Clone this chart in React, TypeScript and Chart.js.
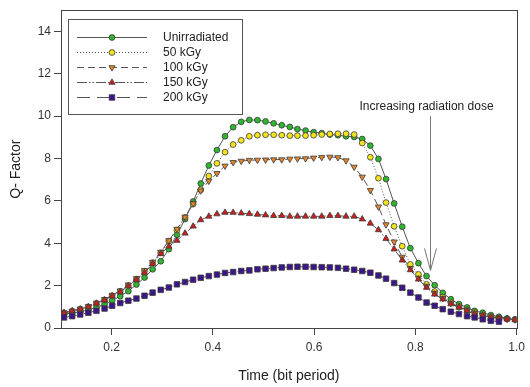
import React, { useEffect, useRef } from 'react';
import { Chart, registerables } from 'chart.js';
import { drawPoint } from 'chart.js/helpers';

Chart.register(...registerables);

// ---- data ----
const timeValues = [
  0.106, 0.122, 0.138, 0.154, 0.170, 0.186, 0.201, 0.217, 0.233, 0.249,
  0.265, 0.281, 0.297, 0.313, 0.329, 0.345, 0.361, 0.376, 0.392, 0.408,
  0.424, 0.440, 0.456, 0.472, 0.488, 0.504, 0.520, 0.536, 0.552, 0.567,
  0.583, 0.599, 0.615, 0.631, 0.647, 0.663, 0.679, 0.695, 0.711, 0.727,
  0.742, 0.758, 0.774, 0.790, 0.806, 0.822, 0.838, 0.854, 0.870, 0.886,
  0.902, 0.917, 0.933, 0.949, 0.965, 0.981, 0.997,
];

const unirradiated = [
  0.66, 0.70, 0.77, 0.85, 0.97, 1.12, 1.30, 1.50, 1.74, 2.05,
  2.38, 2.77, 3.15, 3.72, 4.40, 5.14, 5.97, 6.82, 7.67, 8.40,
  9.05, 9.48, 9.73, 9.82, 9.81, 9.75, 9.66, 9.57, 9.49, 9.39,
  9.32, 9.24, 9.20, 9.13, 9.10, 9.05, 9.02, 8.92, 8.61, 7.98,
  7.03, 5.88, 4.78, 3.77, 3.06, 2.45, 2.02, 1.66, 1.36, 1.13,
  0.97, 0.81, 0.72, 0.61, 0.53, 0.45, 0.41,
];

const dose50 = [
  0.72, 0.80, 0.89, 1.00, 1.16, 1.33, 1.52, 1.73, 2.00, 2.30,
  2.68, 3.08, 3.55, 4.10, 4.62, 5.22, 5.85, 6.52, 7.17, 7.77,
  8.30, 8.66, 8.86, 9.05, 9.10, 9.12, 9.12, 9.10, 9.08, 9.08,
  9.08, 9.10, 9.13, 9.16, 9.17, 9.17, 9.13, 8.73, 8.06, 7.07,
  5.92, 4.80, 3.86, 3.00, 2.53, 2.06, 1.72, 1.45, 1.20, 1.02,
  0.86, 0.73, 0.62, 0.54, 0.47, 0.43, 0.40,
];

const dose100 = [
  0.72, 0.80, 0.90, 1.02, 1.18, 1.35, 1.55, 1.76, 2.04, 2.34,
  2.72, 3.11, 3.58, 4.13, 4.67, 5.24, 5.87, 6.48, 6.94, 7.30,
  7.65, 7.82, 7.88, 7.92, 7.93, 7.94, 7.95, 7.95, 7.98, 7.99,
  8.00, 8.03, 8.06, 8.07, 8.05, 7.90, 7.60, 7.13, 6.50, 5.72,
  4.88, 4.07, 3.35, 2.82, 2.36, 1.98, 1.65, 1.40, 1.17, 1.00,
  0.84, 0.70, 0.60, 0.52, 0.46, 0.42, 0.39,
];

const dose150 = [
  0.72, 0.80, 0.89, 1.00, 1.16, 1.31, 1.51, 1.70, 1.98, 2.28,
  2.60, 3.03, 3.50, 3.85, 4.13, 4.47, 4.80, 5.10, 5.27, 5.38,
  5.45, 5.45, 5.42, 5.39, 5.36, 5.33, 5.30, 5.30, 5.27, 5.27,
  5.27, 5.27, 5.27, 5.30, 5.30, 5.27, 5.27, 5.14, 4.94, 4.63,
  4.22, 3.72, 3.20, 2.74, 2.30, 1.91, 1.59, 1.36, 1.13, 0.97,
  0.81, 0.66, 0.58, 0.50, 0.45, 0.41, 0.38,
];

const dose200 = [
  0.50, 0.56, 0.64, 0.72, 0.81, 0.92, 1.05, 1.18, 1.29, 1.39,
  1.52, 1.67, 1.80, 1.91, 2.06, 2.17, 2.28, 2.37, 2.45, 2.52,
  2.60, 2.64, 2.69, 2.72, 2.77, 2.80, 2.83, 2.86, 2.88, 2.89,
  2.89, 2.88, 2.87, 2.86, 2.84, 2.80, 2.75, 2.69, 2.61, 2.48,
  2.33, 2.12, 1.90, 1.67, 1.44, 1.20, 1.05, 0.89, 0.77, 0.66,
  0.56, 0.50, 0.41, 0.34, 0.30,
];

const seriesLabels = ['Unirradiated', '50 kGy', '100 kGy', '150 kGy', '200 kGy'];
const xTickValues = [0.2, 0.4, 0.6, 0.8, 1.0];
const yTickValues = [0, 2, 4, 6, 8, 10, 12, 14];
const xAxisTitle = 'Time (bit period)';
const yAxisTitle = 'Q- Factor';
const annotationText = 'Increasing radiation dose';
const arrowX = 0.829;
const arrowFrom = 10.0;
const arrowTo = 2.72;
const annotationTextY = 10.45;
const annotationTextX = 0.822;

const FONT = "Arial, 'Liberation Sans', sans-serif";

function toPoints(vals: number[]) {
  return vals.map((v, i) => ({ x: timeValues[i], y: v }));
}

const styles = [
  { fill: '#2fb52f', shape: 'circle', radius: 2.9, rotation: 0, dash: [] as number[] },
  { fill: '#f2e41c', shape: 'circle', radius: 2.9, rotation: 0, dash: [1, 2] },
  { fill: '#e2862c', shape: 'triangle', radius: 3.6, rotation: 180, dash: [7, 4] },
  { fill: '#d01c1c', shape: 'triangle', radius: 3.6, rotation: 0, dash: [10, 2, 1.5, 2, 1.5, 2] },
  { fill: '#3c1689', shape: 'rect', radius: 3.9, rotation: 0, dash: [13, 7] },
];
const LINE_COLOR = '#555555';
const POINT_BORDER = '#3a3a3a';

const framePlugin = {
  id: 'frame',
  afterDraw(chart: any) {
    const { ctx, chartArea } = chart;
    ctx.save();
    ctx.strokeStyle = '#444';
    ctx.lineWidth = 1;
    ctx.strokeRect(
      Math.round(chartArea.left) + 0.5,
      Math.round(chartArea.top) + 0.5,
      Math.round(chartArea.right - chartArea.left),
      Math.round(chartArea.bottom - chartArea.top)
    );
    ctx.restore();
  },
};

const legendPlugin = {
  id: 'boxLegend',
  afterDraw(chart: any) {
    const { ctx, chartArea } = chart;
    const left = chartArea.left + 7;
    const top = chartArea.top + 9;
    const w = 174;
    const h = 95;
    ctx.save();
    ctx.fillStyle = '#fff';
    ctx.fillRect(left, top, w, h);
    ctx.strokeStyle = '#555';
    ctx.lineWidth = 1;
    ctx.strokeRect(Math.round(left) + 0.5, Math.round(top) + 0.5, w, h);
    seriesLabels.forEach((label, i) => {
      const s = styles[i];
      const y = Math.round(top + 18 + i * 15) + 0.5;
      ctx.strokeStyle = LINE_COLOR;
      ctx.lineWidth = 1;
      ctx.setLineDash(s.dash);
      ctx.beginPath();
      ctx.moveTo(left + 9, y);
      ctx.lineTo(left + 79, y);
      ctx.stroke();
      ctx.setLineDash([]);
      ctx.fillStyle = s.fill;
      ctx.strokeStyle = POINT_BORDER;
      ctx.lineWidth = 0.8;
      drawPoint(ctx, { pointStyle: s.shape, radius: s.radius, rotation: s.rotation, borderWidth: 0.8 } as any, left + 44, y);
      ctx.fillStyle = '#222';
      ctx.font = `12px ${FONT}`;
      ctx.textBaseline = 'middle';
      ctx.textAlign = 'left';
      ctx.fillText(label, left + 95, y);
    });
    ctx.restore();
  },
};

const annotationPlugin = {
  id: 'doseArrow',
  afterDraw(chart: any) {
    const { ctx } = chart;
    const xs = chart.scales.x;
    const ys = chart.scales.y;
    const ax = Math.round(xs.getPixelForValue(arrowX)) + 0.5;
    const y1 = ys.getPixelForValue(arrowFrom);
    const y2 = ys.getPixelForValue(arrowTo);
    ctx.save();
    ctx.strokeStyle = '#777';
    ctx.lineWidth = 1;
    ctx.beginPath();
    ctx.moveTo(ax, y1);
    ctx.lineTo(ax, y2);
    ctx.moveTo(ax - 6, y2 - 22);
    ctx.lineTo(ax, y2);
    ctx.lineTo(ax + 6, y2 - 22);
    ctx.stroke();
    ctx.fillStyle = '#222';
    ctx.font = `12px ${FONT}`;
    ctx.textAlign = 'center';
    ctx.textBaseline = 'middle';
    ctx.fillText(annotationText, xs.getPixelForValue(annotationTextX), ys.getPixelForValue(annotationTextY));
    ctx.restore();
  },
};

export default function App() {
  const canvasRef = useRef<HTMLCanvasElement | null>(null);

  useEffect(() => {
    const canvas = canvasRef.current;
    if (!canvas) return;
    const allSeries = [unirradiated, dose50, dose100, dose150, dose200];
    const datasets = allSeries.map((vals, i) => {
      const s = styles[i];
      return {
        label: seriesLabels[i],
        data: toPoints(vals),
        borderColor: LINE_COLOR,
        borderWidth: 1,
        borderDash: s.dash,
        backgroundColor: s.fill,
        pointBackgroundColor: s.fill,
        pointBorderColor: POINT_BORDER,
        pointBorderWidth: 0.8,
        pointStyle: s.shape,
        pointRadius: s.radius,
        pointRotation: s.rotation,
        tension: 0,
        fill: false,
        order: allSeries.length - 1 - i,
      };
    });

    const chart = new Chart(canvas, {
      type: 'line',
      data: { datasets } as any,
      options: {
        animation: false,
        responsive: false,
        devicePixelRatio: 1,
        layout: { padding: { left: 0, top: 8, right: 10, bottom: 0 } },
        plugins: {
          legend: { display: false },
          tooltip: { enabled: false },
        },
        scales: {
          x: {
            type: 'linear',
            min: 0.1,
            max: 1.0,
            afterBuildTicks: (scale: any) => {
              scale.ticks = xTickValues.map((v) => ({ value: v }));
            },
            afterFit: (scale: any) => {
              scale.height = 59;
            },
            grid: { drawOnChartArea: false, drawTicks: true, tickLength: 7, color: '#444' },
            border: { display: true, color: '#444' },
            ticks: {
              color: '#333',
              font: { family: FONT, size: 12 },
              padding: 5,
              maxRotation: 0,
              callback: (v: any) => Number(v).toFixed(1),
            },
            title: {
              display: true,
              text: xAxisTitle,
              color: '#222',
              font: { family: FONT, size: 14 },
              padding: { top: 0, bottom: 2 },
            },
          },
          y: {
            type: 'linear',
            min: 0,
            max: 15,
            afterBuildTicks: (scale: any) => {
              scale.ticks = yTickValues.map((v) => ({ value: v }));
            },
            afterFit: (scale: any) => {
              scale.width = 61;
            },
            grid: { drawOnChartArea: false, drawTicks: true, tickLength: 7, color: '#444' },
            border: { display: true, color: '#444' },
            ticks: {
              color: '#333',
              font: { family: FONT, size: 12 },
              padding: 3,
              callback: (v: any) => String(v),
            },
            title: {
              display: true,
              text: yAxisTitle,
              color: '#222',
              font: { family: FONT, size: 14 },
              padding: { top: 8, bottom: 0 },
            },
          },
        },
      } as any,
      plugins: [framePlugin, legendPlugin, annotationPlugin],
    });
    return () => chart.destroy();
  }, []);

  return (
    <div style={{ position: 'fixed', left: 0, top: 0, width: 530, height: 387, background: '#fff' }}>
      <canvas ref={canvasRef} width={530} height={387} style={{ width: 530, height: 387, display: 'block' }} />
    </div>
  );
}
